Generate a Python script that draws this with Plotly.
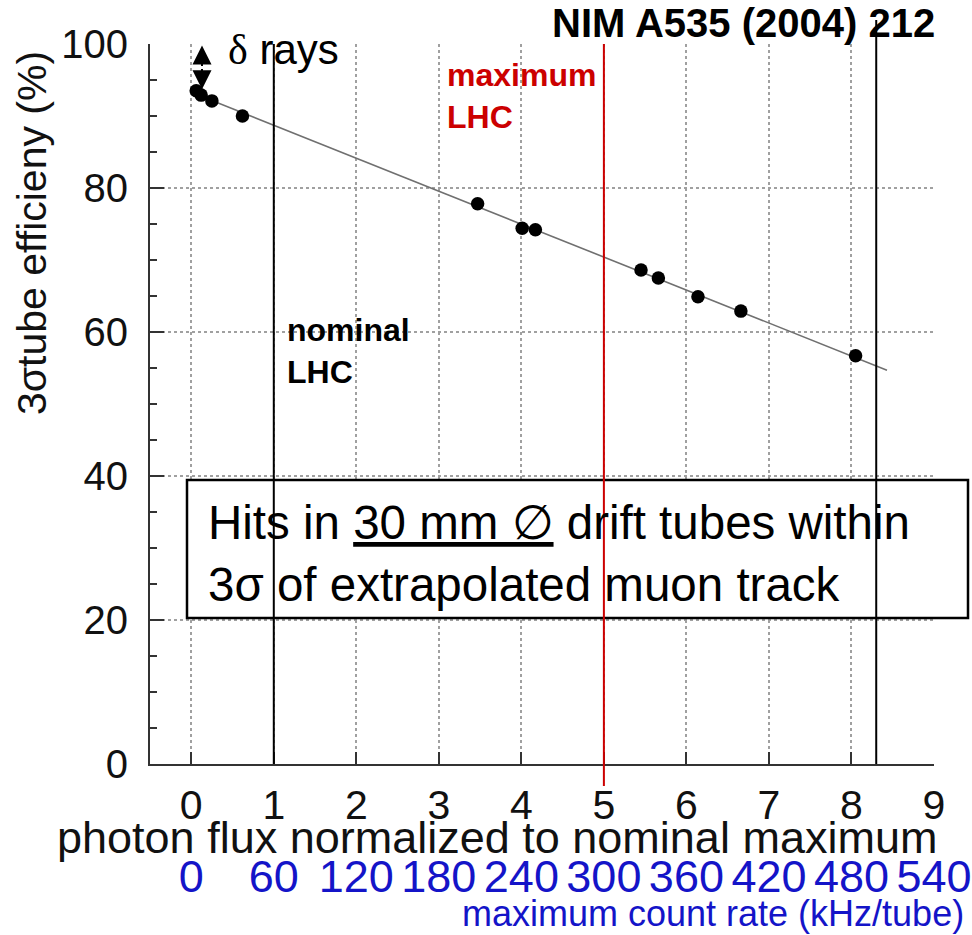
import plotly.graph_objects as go

# ---------------- data ----------------
photon_flux = [0.06, 0.12, 0.25, 0.62, 3.47, 4.01, 4.17, 5.45, 5.66, 6.14, 6.66, 8.05]
efficiency = [93.5, 92.9, 92.1, 90.0, 77.8, 74.4, 74.2, 68.6, 67.5, 64.9, 62.9, 56.7]

fit_x = [0.0, 8.43]
fit_y = [93.3, 54.7]

flux_ticks = [0, 1, 2, 3, 4, 5, 6, 7, 8, 9]
rate_ticks = [0, 60, 120, 180, 240, 300, 360, 420, 480, 540]
eff_ticks = [0, 20, 40, 60, 80, 100]

nominal_lhc = 1
maximum_lhc = 5
end_marker = 8.3
delta_top, delta_bottom, delta_x = 99.8, 93.7, 0.13

FONT = "Liberation Sans, Arial, Helvetica, sans-serif"

W, H = 972, 935
ML, MR, MT, MB = 150, 38, 44, 0
plot_w = W - ML - MR
plot_h = H - MT - MB


def px(xp):
    return (xp - ML) / plot_w


def py(yp):
    return (H - MB - yp) / plot_h


y_dom0 = py(764)

fig = go.Figure()

fig.add_trace(go.Scatter(
    x=fit_x, y=fit_y, mode="lines",
    line=dict(color="#707070", width=1.6),
    showlegend=False, hoverinfo="skip"))

fig.add_trace(go.Scatter(
    x=photon_flux, y=efficiency, mode="markers",
    marker=dict(color="black", size=13.5),
    showlegend=False))

# invisible trace to carry the count-rate axis
fig.add_trace(go.Scatter(
    x=rate_ticks, y=[None] * len(rate_ticks), xaxis="x2", yaxis="y",
    mode="markers", showlegend=False, hoverinfo="skip"))

shapes = [
    # text box
    dict(type="rect", xref="paper", yref="paper",
         x0=px(187), x1=px(968), y0=py(618), y1=py(480),
         line=dict(color="black", width=2.5), fillcolor="white", layer="above"),
    dict(type="line", xref="x", yref="paper", x0=nominal_lhc, x1=nominal_lhc,
         y0=y_dom0, y1=1.0, line=dict(color="black", width=2), layer="above"),
    dict(type="line", xref="x", yref="paper", x0=maximum_lhc, x1=maximum_lhc,
         y0=py(786), y1=1.0, line=dict(color="#cc0000", width=2), layer="above"),
    dict(type="line", xref="x", yref="paper", x0=end_marker, x1=end_marker,
         y0=y_dom0, y1=py(20), line=dict(color="black", width=2), layer="above"),
]

annotations = [
    dict(text="<b>NIM A535 (2004) 212</b>", xref="paper", yref="paper",
         x=px(743), y=py(23), xanchor="center", yanchor="middle", showarrow=False,
         font=dict(family=FONT, size=40, color="black")),
    dict(text="<b>maximum<br>LHC</b>", xref="paper", yref="paper",
         x=px(445), y=py(96), xanchor="left", yanchor="middle", align="left",
         showarrow=False, font=dict(family=FONT, size=32, color="#cc0000")),
    dict(text="<b>nominal<br>LHC</b>", xref="paper", yref="paper",
         x=px(285), y=py(351), xanchor="left", yanchor="middle", align="left",
         showarrow=False, font=dict(family=FONT, size=32, color="black")),
    dict(text="<span style=\"font-family:'Liberation Serif',serif\">δ</span> rays",
         xref="paper", yref="paper",
         x=px(226), y=py(50), xanchor="left", yanchor="middle", showarrow=False,
         font=dict(family=FONT, size=42, color="black")),
    dict(text="Hits in <u>30 mm ∅</u> drift tubes within<br>3σ of extrapolated muon track",
         xref="paper", yref="paper",
         x=px(206), y=py(553), xanchor="left", yanchor="middle", align="left",
         showarrow=False, font=dict(family=FONT, size=47.5, color="black")),
    dict(text="3σtube efficieny (%)", xref="paper", yref="paper",
         x=px(32), y=py(233), xanchor="center", yanchor="middle", textangle=-90,
         showarrow=False, font=dict(family=FONT, size=41, color="#111")),
    dict(text="photon flux normalized to nominal maximum", xref="paper", yref="paper",
         x=px(497), y=py(837), xanchor="center", yanchor="middle",
         showarrow=False, font=dict(family=FONT, size=45, color="#111")),
    dict(text="maximum count rate (kHz/tube)", xref="paper", yref="paper",
         x=px(713), y=py(913), xanchor="center", yanchor="middle",
         showarrow=False, font=dict(family=FONT, size=36, color="#1414c8")),
    # double-headed arrow for delta rays
    dict(text="", x=delta_x, y=delta_top, ax=delta_x, ay=(delta_top + delta_bottom) / 2,
         xref="x", yref="y", axref="x", ayref="y", showarrow=True,
         arrowhead=2, arrowsize=1.9, arrowwidth=2, arrowcolor="black"),
    dict(text="", x=delta_x, y=delta_bottom, ax=delta_x, ay=(delta_top + delta_bottom) / 2,
         xref="x", yref="y", axref="x", ayref="y", showarrow=True,
         arrowhead=2, arrowsize=1.9, arrowwidth=2, arrowcolor="black"),
]

fig.update_layout(
    width=W, height=H,
    margin=dict(l=ML, r=MR, t=MT, b=MB, pad=0, autoexpand=False),
    paper_bgcolor="white", plot_bgcolor="white",
    font=dict(family=FONT, color="black"),
    shapes=shapes, annotations=annotations,
    xaxis=dict(
        range=[-0.5, 9.0], tickvals=flux_ticks, ticktext=[str(v) for v in flux_ticks],
        ticks="inside", ticklen=12, tickwidth=1.5, tickcolor="#333",
        showline=True, linecolor="#333", linewidth=2,
        showgrid=True, gridcolor="#a0a0a0", griddash="dot", gridwidth=1.5,
        zeroline=False, anchor="y", automargin=False,
        tickfont=dict(family=FONT, size=41, color="#111"),
        ticklabelstandoff=4,
    ),
    xaxis2=dict(
        range=[-30, 540], tickvals=rate_ticks, ticktext=[str(v) for v in rate_ticks],
        overlaying="x", anchor="free", position=0.10, side="bottom",
        ticks="", showline=False, showgrid=False, zeroline=False, automargin=False,
        tickfont=dict(family=FONT, size=45, color="#1414c8"),
    ),
    yaxis=dict(
        domain=[y_dom0, 1.0], range=[0, 100], tickvals=eff_ticks,
        ticks="inside", ticklen=14, tickwidth=1.5, tickcolor="#333",
        minor=dict(dtick=5, ticks="inside", ticklen=7, tickcolor="#333", showgrid=False),
        showline=True, linecolor="#333", linewidth=2,
        showgrid=True, gridcolor="#a0a0a0", griddash="dot", gridwidth=1.5,
        zeroline=False, automargin=False,
        tickfont=dict(family=FONT, size=40, color="#111"),
        ticklabelstandoff=12,
    ),
)

fig.write_html("out.html")
